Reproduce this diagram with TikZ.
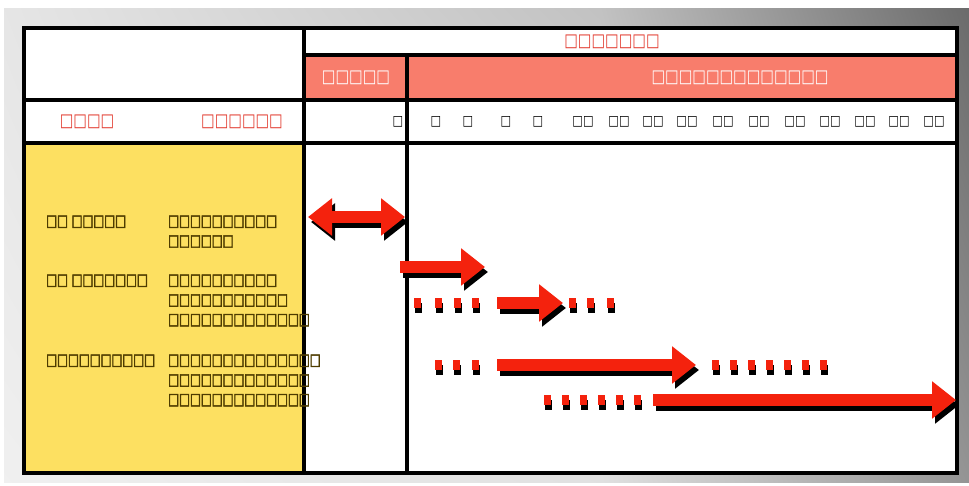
\documentclass[tikz,border=0pt]{standalone}
\usepackage{fontspec}
\newfontfamily\boxfont[FakeStretch=0.8]{DejaVu Sans}
\newfontfamily\boxfontb[FakeStretch=0.72,FakeBold=3]{DejaVu Sans}
\usetikzlibrary{arrows.meta,shadings}
\pgfdeclarelayer{bg}
\pgfsetlayers{bg,main}
\definecolor{salmon}{HTML}{F87D6C}
\definecolor{headred}{HTML}{E23A2E}
\definecolor{barred}{HTML}{F4220D}
\definecolor{sand}{HTML}{FDE061}
\definecolor{umber}{HTML}{4E3C00}
\tikzset{
  rule/.style={line width=4.5pt, line cap=rect},
  headtxt/.style={font=\boxfont\fontsize{18}{20}\selectfont, text=headred, inner sep=0pt},
  phasetxt/.style={font=\boxfont\fontsize{18}{20}\selectfont, text=white, inner sep=0pt},
  ticktxt/.style={font=\boxfont\fontsize{14}{15}\selectfont, inner sep=0pt},
  tasktxt/.style={font=\boxfontb\fontsize{16}{19.7}\selectfont, text=umber, inner sep=0pt, align=left, anchor=north west},
  bar/.style={line width=12pt, barred, -{Triangle[length=24pt, width=36pt]}},
  twobar/.style={line width=12pt, barred, {Triangle[length=24pt, width=36pt]}-{Triangle[length=24pt, width=36pt]}},
  shadow/.style={black, transform canvas={shift={(3pt,-5pt)}}}
}
\begin{document}
\begin{tikzpicture}[x=1pt, y=-1pt]
        \useasboundingbox (0,0) rectangle (969,486);
        \begin{pgfonlayer}{bg}
                \shade[upper left=black!10, upper right=black!24, lower left=black!6, lower right=black!12] (4,9) rectangle (600,482);
                \shade[upper left=black!24, upper right=black!58, lower left=black!12, lower right=black!42] (600,9) rectangle (969,482);
                \fill[white] (24,28) rectangle (957,473);
                \fill[salmon] (304,55) rectangle (957,100);
                \fill[sand] (24,143) rectangle (304,473);
        \end{pgfonlayer}
        % table rules
        \draw[rule] (24,28) rectangle (957,473);
        \draw[rule] (304,28) -- (304,473);
        \draw[rule] (407,55) -- (407,473);
        \draw[rule] (304,55) -- (957,55);
        \draw[rule] (24,100) -- (957,100);
        \draw[rule] (24,143) -- (957,143);
        % headings
        \node (title) [headtxt] at (612,42) {□□□□□□□};
        \node (phase1) [phasetxt] at (356,78) {□□□□□};
        \node (phase2) [phasetxt] at (740,78) {□□□□□□□□□□□□□};
        \node (colA) [headtxt] at (87,122) {□□□□};
        \node (colB) [headtxt] at (242,122) {□□□□□□};
        \foreach \x/\t [count=\i] in {398/□, 436/□, 468/□, 506/□, 538/□, 583/□□, 619/□□, 653/□□, 687/□□, 723/□□, 759/□□, 795/□□, 830/□□, 865/□□, 899/□□, 934/□□}
                \node (tick\i) [ticktxt] at (\x,122) {\t};
        % tasks
        \node (task1) [tasktxt] at (46,215.5) {□□ □□□□□};
        \node (task2) [tasktxt] at (46,274.5) {□□ □□□□□□□};
        \node (task3) [tasktxt] at (46,354.5) {□□□□□□□□□□};
        \node (note1) [tasktxt] at (168,215.5) {□□□□□□□□□□\\□□□□□□};
        \node (note2) [tasktxt] at (168,274.5) {□□□□□□□□□□\\□□□□□□□□□□□\\□□□□□□□□□□□□□};
        \node (note3) [tasktxt] at (168,354.5) {□□□□□□□□□□□□□□\\□□□□□□□□□□□□□\\□□□□□□□□□□□□□};
        % bars
        \draw[twobar, shadow] (308,217) -- (405,217);
        \draw[twobar] (308,217) -- (405,217);
        \foreach \xa/\xb/\y in {400/485/267, 497/563/303, 497/696/365, 653/956/400}
        {
                \draw[bar, shadow] (\xa,\y) -- (\xb,\y);
                \draw[bar] (\xa,\y) -- (\xb,\y);
        }
        \foreach \x/\y in {417/303, 438/303, 457/303, 475/303, 572/303, 590/303, 610/303,
                438/365, 456/365, 475/365, 715/365, 733/365, 751/365, 769/365, 787/365, 805/365, 823/365,
                547/400, 565/400, 583/400, 601/400, 619/400, 637/400}
        {
                \fill[black] (\x-2,\y) rectangle +(7,10);
                \fill[barred] (\x-3,\y-5) rectangle +(7,10);
        }
\end{tikzpicture}
\end{document}
